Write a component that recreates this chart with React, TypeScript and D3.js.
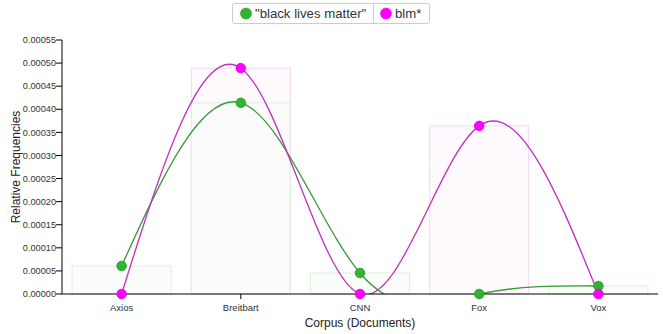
import React from "react";
import * as d3 from "d3";

const categories = ["Axios", "Breitbart", "CNN", "Fox", "Vox"];
const seriesNames = ['"black lives matter"', "blm*"];
const blmPhrase = [0.0000606, 0.000414, 0.0000455, 0.0, 0.0000173];
const blmStar = [0.0, 0.000489, 0.0, 0.000364, 0.0];
const yTicks = [0, 0.00005, 0.0001, 0.00015, 0.0002, 0.00025, 0.0003, 0.00035, 0.0004, 0.00045, 0.0005, 0.00055];

const W = 663;
const H = 334;
const M = { left: 62, right: 5, top: 40, bottom: 40 };

const series = [
  { name: seriesNames[0], values: blmPhrase, dot: "#2fb52f", dotStroke: "#249a24", line: "#3a9a3a", barFill: "#f6fbf6", barStroke: "#dcefdc" },
  { name: seriesNames[1], values: blmStar, dot: "#ff00ff", dotStroke: "#e000e0", line: "#c02fc0", barFill: "#fdf6fd", barStroke: "#f3d6f3" },
];

export default function App() {
  const x = d3.scaleBand<string>().domain(categories).range([M.left, W - M.right]).paddingInner(0.17).paddingOuter(0.085);
  const y = d3.scaleLinear().domain([0, 0.00055]).range([H - M.bottom, M.top]);
  const cx = (c: string) => (x(c) as number) + x.bandwidth() / 2;
  const font = "Liberation Sans, Arial, sans-serif";
  const y0 = y(0);

  return (
    <svg width={W} height={H} style={{ position: "absolute", left: 0, top: 0, fontFamily: font }}>
      <defs>
        <clipPath id="plot">
          <rect x={M.left} y={M.top - 10} width={W - M.right - M.left} height={y0 - M.top + 10} />
        </clipPath>
      </defs>
      {/* bars */}
      {[1, 0].map((si) => {
        const s = series[si];
        return (
          <g key={"b" + si}>
            {categories.map((c, i) => {
              const v = s.values[i];
              if (v <= 0) return null;
              return (
                <rect key={c} x={x(c)} y={y(v)} width={x.bandwidth()} height={y0 - y(v)}
                  fill={s.barFill} fillOpacity={0.6} stroke={s.barStroke} strokeWidth={1} />
              );
            })}
          </g>
        );
      })}
      {/* y axis */}
      <line x1={M.left} x2={M.left} y1={y(0.00055)} y2={y0} stroke="#000" />
      {yTicks.map((t) => (
        <g key={t} transform={`translate(0,${y(t)})`}>
          <line x1={M.left - 6} x2={M.left} stroke="#000" />
          <text x={M.left - 6} dy="0.34em" textAnchor="end" fontSize={9.2} fill="#333">{t.toFixed(5)}</text>
        </g>
      ))}
      <text transform={`translate(20,${(M.top + y0) / 2}) rotate(-90)`} textAnchor="middle" fontSize={12} fill="#222">Relative Frequencies</text>
      {/* lines */}
      <g clipPath="url(#plot)">
        {series.map((s, si) => {
          const line = d3.line<number>().x((_, i) => cx(categories[i])).y((v) => y(v)).curve(d3.curveNatural);
          return <path key={"l" + si} d={line(s.values) || ""} fill="none" stroke={s.line} strokeWidth={1.3} />;
        })}
      </g>
      {/* x axis */}
      <line x1={M.left} x2={W - M.right} y1={y0} y2={y0} stroke="#000" />
      {categories.map((c) => (
        <g key={c} transform={`translate(${cx(c)},${y0})`}>
          <line y1={0} y2={5} stroke="#000" />
          <text y={17} textAnchor="middle" fontSize={9.5} fill="#333">{c}</text>
        </g>
      ))}
      <text x={(M.left + W - M.right) / 2} y={327} textAnchor="middle" fontSize={12} fill="#222">Corpus (Documents)</text>
      {/* dots */}
      {series.map((s, si) => (
        <g key={"d" + si}>
          {categories.map((c, i) => (
            <circle key={c} cx={cx(c)} cy={y(s.values[i])} r={4.8} fill={s.dot} stroke={s.dotStroke} strokeWidth={0.8} />
          ))}
        </g>
      ))}
      {/* legend */}
      <g>
        <rect x={232.5} y={3.5} width={197} height={20} rx={2} fill="#fff" stroke="#ccc" />
        <line x1={373.5} x2={373.5} y1={3.5} y2={23.5} stroke="#ccc" />
        <circle cx={246} cy={13.5} r={5.5} fill={series[0].dot} stroke={series[0].dotStroke} strokeWidth={0.6} />
        <text x={255} y={18.3} fontSize={13.2} fill="#333">{seriesNames[0]}</text>
        <circle cx={386} cy={13.5} r={5.5} fill={series[1].dot} stroke={series[1].dotStroke} strokeWidth={0.6} />
        <text x={395} y={18.3} fontSize={13.2} fill="#333">{seriesNames[1]}</text>
      </g>
    </svg>
  );
}
